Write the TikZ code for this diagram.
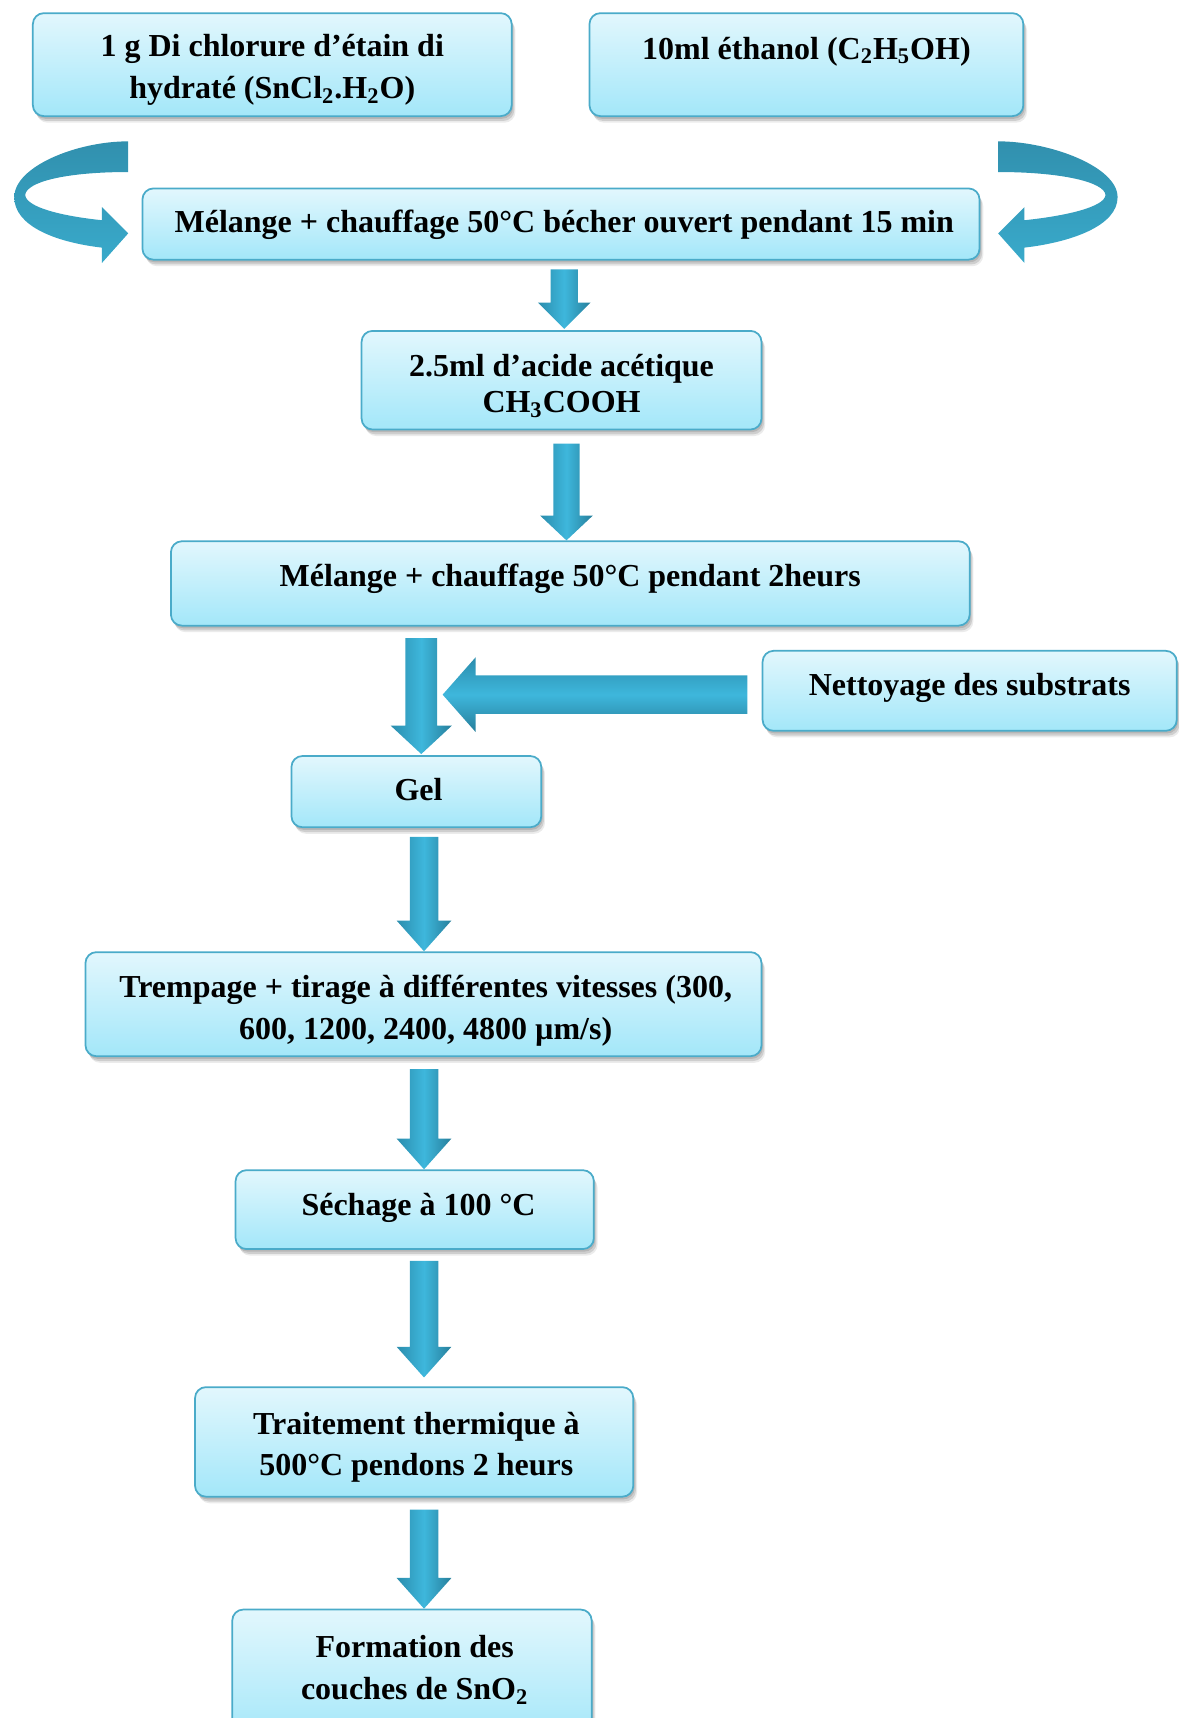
\documentclass[tikz,border=0pt]{standalone}
\usepackage{fontspec}
\setmainfont{Liberation Serif}
\usetikzlibrary{shadows,calc}
\definecolor{bord}{HTML}{4AABC9}
\definecolor{btop}{HTML}{E2F7FD}
\definecolor{bbot}{HTML}{A3E7F9}
\definecolor{adark}{HTML}{2B8DAD}
\definecolor{amid}{HTML}{3EB7DC}
\definecolor{cdark}{HTML}{3190AE}
\definecolor{clight}{HTML}{39AACB}
\newcommand\mydownarrow[5]{%
  \path[varr] let \p1=(#1), \p2=(#2) in
    (\x1-#3,\y1) -- (\x1+#3,\y1) -- (\x1+#3,\y2+#5) -- (\x1+#4,\y2+#5) --
    (\x1,\y2) -- (\x1-#4,\y2+#5) -- (\x1-#3,\y2+#5) -- cycle;}
\begin{document}
\begin{tikzpicture}[x=0.5pt,y=-0.5pt,
  box/.style={draw=bord, line width=0.8pt, rounded corners=5pt,
    top color=btop, bottom color=bbot, inner sep=0pt,
    drop shadow={shadow xshift=0.6pt, shadow yshift=-1.2pt, fill=black, opacity=0.12},
    drop shadow={shadow xshift=1.2pt, shadow yshift=-2.2pt, fill=black, opacity=0.12},
    drop shadow={shadow xshift=1.7pt, shadow yshift=-3pt, fill=black, opacity=0.08}},
  txt/.style={font=\fontsize{14.6}{19}\selectfont\bfseries, align=center, inner sep=0pt},
  varr/.style={left color=adark, right color=adark!90!black, middle color=amid},
  harr/.style={top color=adark, bottom color=adark!90!black, middle color=amid},
  carr/.style={top color=cdark, bottom color=clight}]
\useasboundingbox (0,0) rectangle (1076,1568);

% boxes
\node[box, minimum width=218.5pt, minimum height=47pt]   (b1) at (248.5,59) {};
\node[box, minimum width=198pt,   minimum height=47pt]   (b2) at (736,59) {};
\node[box, minimum width=382pt,   minimum height=32.5pt] (b3) at (512,204.5) {};
\node[box, minimum width=182.5pt, minimum height=45pt]   (b4) at (512.5,347) {};
\node[box, minimum width=364.5pt, minimum height=38.5pt] (b5) at (520.5,532.5) {};
\node[box, minimum width=189pt,   minimum height=36.5pt] (bn) at (885,630.5) {};
\node[box, minimum width=114pt,   minimum height=32.5pt] (bg) at (380,722.5) {};
\node[box, minimum width=308.5pt, minimum height=47.5pt] (bt) at (386.5,916.5) {};
\node[box, minimum width=163.5pt, minimum height=36pt]   (bs) at (378.5,1104) {};
\node[box, minimum width=200pt,   minimum height=50pt]   (br) at (378,1316) {};
\node[box, minimum width=164pt,   minimum height=60.5pt] (bf) at (376,1529.5) {};

% texts
\node[txt] (t1) at ([yshift=-2.5pt]b1.center) {1 g Di chlorure d’étain di\\hydraté (SnCl\textsubscript{2}.H\textsubscript{2}O)};
\node[txt] (t2) at ([yshift=6pt]b2.center) {10ml éthanol (C\textsubscript{2}H\textsubscript{5}OH)};
\node[txt] (t3) at ([shift={(1.5pt,-0.5pt)}]b3.center) {Mélange + chauffage 50°C bécher ouvert pendant 15 min};
\node[txt, font=\fontsize{14.6}{16.5}\selectfont\bfseries] (t4) at ([yshift=-2.5pt]b4.center) {2.5ml d’acide acétique\\CH\textsubscript{3}COOH};
\node[txt] (t5) at ([yshift=2.25pt]b5.center) {Mélange + chauffage 50°C pendant 2heurs};
\node[txt] (tn) at ([yshift=1.25pt]bn.center) {Nettoyage des substrats};
\node[txt] (tg) at ([shift={(1pt,0.75pt)}]bg.center) {Gel};
\node[txt] (tt) at ([shift={(1pt,-3pt)}]bt.center) {Trempage + tirage à différentes vitesses (300,\\600, 1200, 2400, 4800 µm/s)};
\node[txt] (ts) at ([shift={(1.75pt,1pt)}]bs.center) {Séchage à 100 °C};
\node[txt] (tr) at ([shift={(1pt,-2.5pt)}]br.center) {Traitement thermique à\\500°C pendons 2 heurs};
\node[txt] (tf) at ([shift={(1.25pt,2.75pt)}]bf.center) {Formation des\\couches de SnO\textsubscript{2}};

% curved arrows
\path[carr] (117,129) .. controls (70,129) and (13,152) .. (13,180)
  .. controls (13,206) and (50,221) .. (93,226) -- (93,240) -- (117,213) -- (93,189) -- (93,201)
  .. controls (55,197) and (24,189) .. (23,178) .. controls (24,166) and (60,157) .. (117,157) -- cycle;
\begin{scope}[xshift=514pt, xscale=-1]
\path[carr] (117,129) .. controls (70,129) and (8,152) .. (8,180)
  .. controls (8,206) and (50,221) .. (93,226) -- (93,240) -- (117,213) -- (93,189) -- (93,201)
  .. controls (55,197) and (20,189) .. (19,178) .. controls (20,166) and (60,157) .. (117,157) -- cycle;
\end{scope}

% column coordinates for block arrows
\coordinate (c1) at (515,0);
\coordinate (c2) at (517,0);
\coordinate (c3) at (384.5,0);
\coordinate (c4) at (387,0);
\coordinate (hx) at (404,634);

\mydownarrow{[yshift=-4pt]b3.south -| c1}{[yshift=0.5pt]b4.north -| c1}{6.25pt}{12pt}{12pt}
\mydownarrow{[yshift=-6pt]b4.south -| c2}{b5.north -| c2}{6pt}{12pt}{11.3pt}
\mydownarrow{[yshift=-5.25pt]b5.south -| c3}{[yshift=0.5pt]bg.north -| c3}{7.25pt}{14pt}{13pt}
\mydownarrow{[yshift=-4pt]bg.south -| c4}{bt.north -| c4}{6.5pt}{12.5pt}{14pt}
\mydownarrow{[yshift=-5.5pt]bt.south -| c4}{bs.north -| c4}{6.5pt}{12.5pt}{14pt}
\mydownarrow{[yshift=-5pt]bs.south -| c4}{[yshift=4pt]br.north -| c4}{6.5pt}{12.5pt}{14pt}
\mydownarrow{[yshift=-5.5pt]br.south -| c4}{bf.north -| c4}{6.5pt}{12.5pt}{14pt}

% horizontal arrow from Nettoyage
\path[harr] let \p1=([shift={(-6.5pt,-1.75pt)}]bn.west), \p2=(hx) in
  (\x1,\y1+8.75pt) -- (\x2+15pt,\y1+8.75pt) -- (\x2+15pt,\y1+17pt) -- (\x2,\y1) --
  (\x2+15pt,\y1-17pt) -- (\x2+15pt,\y1-8.75pt) -- (\x1,\y1-8.75pt) -- cycle;
\end{tikzpicture}
\end{document}
